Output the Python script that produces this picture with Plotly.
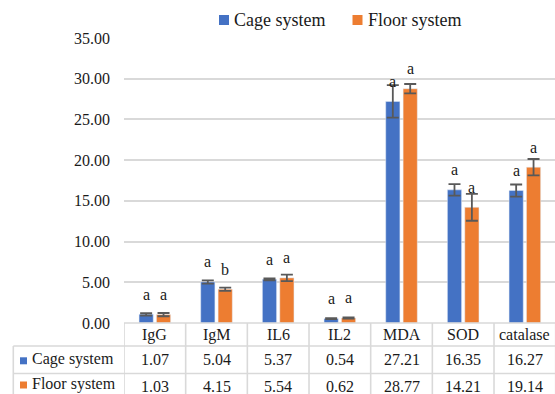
import plotly.graph_objects as go

# Biomarker means for the two housing systems
categories = ["IgG", "IgM", "IL6", "IL2", "MDA", "SOD", "catalase"]
cage_values = [1.07, 5.04, 5.37, 0.54, 27.21, 16.35, 16.27]
floor_values = [1.03, 4.15, 5.54, 0.62, 28.77, 14.21, 19.14]
cage_errors = [0.15, 0.20, 0.12, 0.06, 2.00, 0.70, 0.74]
floor_errors = [0.20, 0.20, 0.40, 0.07, 0.58, 1.65, 1.00]
cage_letters = ["a", "a", "a", "a", "a", "a", "a"]
floor_letters = ["a", "b", "a", "a", "a", "a", "a"]
series_names = ["Cage system", "Floor system"]
tick_values = [0, 5, 10, 15, 20, 25, 30, 35]

BLUE = "#4472C4"
ORANGE = "#ED7D31"
GRID = "#D9D9D9"
TEXT = "#1a1a1a"
FONT = "'Liberation Serif', Tinos, 'Times New Roman', 'DejaVu Serif', serif"

W, H = 555, 394
ML, MT, MB = 124, 38, 71
plot_w = W - ML
plot_h = H - MT - MB
zero_px = H - MB


def py(y_px):
    """Page pixel row -> paper y coordinate."""
    return (zero_px - y_px) / plot_h


def px(x_px):
    """Page pixel column -> paper x coordinate."""
    return (x_px - ML) / plot_w


fig = go.Figure()
err_style = dict(type="data", visible=True, color="#595959", thickness=1.8, width=6)
fig.add_trace(go.Bar(
    x=categories, y=cage_values, name=series_names[0], marker_color=BLUE,
    error_y=dict(array=cage_errors, **err_style), showlegend=False,
))
fig.add_trace(go.Bar(
    x=categories, y=floor_values, name=series_names[1], marker_color=ORANGE,
    error_y=dict(array=floor_errors, **err_style), showlegend=False,
))

cat_w = 61.67
n = len(categories)
x_right = -0.5 + plot_w / cat_w

fig.update_layout(
    width=W, height=H,
    margin=dict(l=ML, r=0, t=MT, b=MB, pad=0),
    paper_bgcolor="white", plot_bgcolor="white",
    barmode="group", bargap=0.436, bargroupgap=0.184,
    font=dict(family=FONT, size=16, color=TEXT),
    xaxis=dict(range=[-0.5, x_right], showticklabels=False, showgrid=False,
               zeroline=False, showline=False, ticks=""),
    yaxis=dict(range=[0, 35], tickvals=tick_values,
               ticktext=[f"{v:.2f}" for v in tick_values],
               showgrid=True, gridcolor=GRID, gridwidth=1.5,
               zeroline=False, showline=False, ticks="", ticklabelstandoff=13,
               tickfont=dict(family=FONT, size=16, color=TEXT)),
)

# Significance letters above each bar
offset_px = 8.7
for i, cat in enumerate(categories):
    for val, letter, shift in ((cage_values[i], cage_letters[i], -offset_px),
                               (floor_values[i], floor_letters[i], offset_px)):
        fig.add_annotation(x=cat, y=val, xref="x", yref="y", text=letter,
                           showarrow=False, xshift=shift, yshift=20,
                           font=dict(family=FONT, size=16, color=TEXT))

# Data table below the plot
line = dict(color=GRID, width=1.6)
row1, row2, bottom = py(346), py(373.5), py(400)
fig.add_shape(type="line", xref="paper", yref="paper", x0=0, x1=1.01, y0=0, y1=0, line=line)
fig.add_shape(type="line", xref="paper", yref="paper", x0=px(13.3), x1=1.01, y0=row1, y1=row1, line=line)
fig.add_shape(type="line", xref="paper", yref="paper", x0=px(13.3), x1=1.01, y0=row2, y1=row2, line=line)
fig.add_shape(type="line", xref="paper", yref="paper", x0=px(13.3), x1=px(13.3), y0=row1, y1=bottom, line=line)
for i in range(n + 1):
    fig.add_shape(type="line", xref="x", yref="paper", x0=i - 0.5, x1=i - 0.5,
                  y0=0, y1=bottom, line=line)

cat_y, cage_y, floor_y = py(334.5), py(359.5), py(386)
for i, cat in enumerate(categories):
    fig.add_annotation(x=cat, y=cat_y, xref="x", yref="paper", text=cat, showarrow=False,
                       yanchor="middle", font=dict(family=FONT, size=16, color=TEXT))
    fig.add_annotation(x=cat, y=cage_y, xref="x", yref="paper", text=f"{cage_values[i]:.2f}",
                       showarrow=False, yanchor="middle", font=dict(family=FONT, size=16, color=TEXT))
    fig.add_annotation(x=cat, y=floor_y, xref="x", yref="paper", text=f"{floor_values[i]:.2f}",
                       showarrow=False, yanchor="middle", font=dict(family=FONT, size=16, color=TEXT))

# Legend keys inside the table
for name, color, yc in ((series_names[0], BLUE, 360.8), (series_names[1], ORANGE, 385)):
    fig.add_shape(type="rect", xref="paper", yref="paper", x0=px(20), x1=px(27),
                  y0=py(yc + 3.5), y1=py(yc - 3.5), fillcolor=color, line=dict(width=0))
    fig.add_annotation(x=px(29.5), y=py(yc - 1.5), xref="paper", yref="paper", text=name,
                       showarrow=False, xanchor="left", yanchor="middle",
                       font=dict(family=FONT, size=16, color=TEXT))

# Top legend
for name, color, sq_x, txt_x in ((series_names[0], BLUE, 219, 231.5),
                                 (series_names[1], ORANGE, 352.5, 365.5)):
    fig.add_shape(type="rect", xref="paper", yref="paper", x0=px(sq_x), x1=px(sq_x + 10),
                  y0=py(25), y1=py(15), fillcolor=color, line=dict(width=0))
    fig.add_annotation(x=px(txt_x), y=py(20), xref="paper", yref="paper", text=name,
                       showarrow=False, xanchor="left", yanchor="middle",
                       font=dict(family=FONT, size=18, color=TEXT))

fig.write_html("out.html")
